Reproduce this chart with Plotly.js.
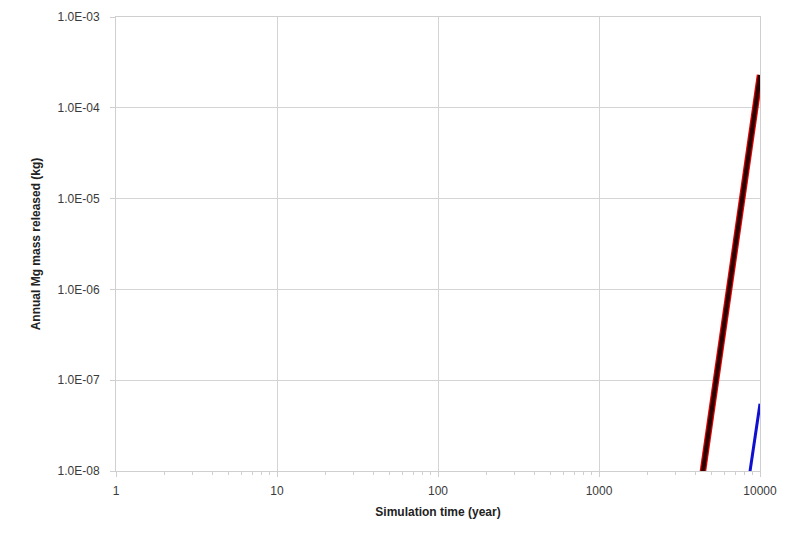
<!DOCTYPE html>
<html>
<head>
<meta charset="utf-8">
<script src="https://cdn.plot.ly/plotly-3.0.1.min.js"></script>
<style>html,body{margin:0;padding:0;background:#fff;}#chart{width:787px;height:535px;}</style>
</head>
<body>
<div id="chart"></div>
<script>
// Simulation time (years)
const timeRed = [4000, 4425, 5000, 6000, 7000, 8000, 9000, 10000];
// Annual Mg mass released (kg) - red/black series
const massRed = [2.9e-9, 1.0e-8, 4.5e-8, 4.2e-7, 2.8e-6, 1.45e-5, 6.2e-5, 2.3e-4];
// blue series
const timeBlue = [8000, 8670, 9000, 10000];
const massBlue = [3.8e-9, 1.0e-8, 1.5e-8, 5.5e-8];

const yTickVals = [1e-8, 1e-7, 1e-6, 1e-5, 1e-4, 1e-3];
const yTickText = ["1.0E-08", "1.0E-07", "1.0E-06", "1.0E-05", "1.0E-04", "1.0E-03"];
const xTickVals = [1, 10, 100, 1000, 10000];
const xTickText = ["1", "10", "100", "1000", "10000"];
const decades = [1, 10, 100, 1000];
const minorDigits = [2, 3, 4, 5, 6, 7, 8, 9];
const xMinorVals = [];
decades.forEach(d => minorDigits.forEach(m => xMinorVals.push(d * m)));

const traces = [
  {x: timeBlue, y: massBlue, mode: 'lines', line: {color: '#1010d0', width: 3}, hoverinfo: 'skip'},
  {x: timeRed, y: massRed, mode: 'lines', line: {color: '#e00000', width: 6.5}, hoverinfo: 'skip'},
  {x: timeRed, y: massRed, mode: 'lines', line: {color: '#2a0000', width: 4}, hoverinfo: 'skip'}
];

const tickFont = {family: 'Liberation Sans, Arial, sans-serif', size: 12, color: '#3a3a3a'};
const titleFont = {family: 'Liberation Sans, Arial, sans-serif', size: 12, color: '#222', weight: 'bold'};

const layout = {
  width: 787, height: 535,
  margin: {l: 116, r: 27, t: 17, b: 64},
  paper_bgcolor: '#fff', plot_bgcolor: '#fff',
  showlegend: false,
  xaxis: {
    type: 'log', range: [0, 4],
    tickvals: xTickVals, ticktext: xTickText,
    showgrid: true, gridcolor: '#d4d4d4', gridwidth: 1,
    showline: true, linecolor: '#cfcfcf', linewidth: 1, mirror: true,
    ticks: 'outside', ticklen: 5, tickcolor: '#cfcfcf',
    tickfont: tickFont, ticklabelstandoff: 4,
    zeroline: false,
    title: {text: 'Simulation time (year)', font: titleFont, standoff: 10}
  },
  xaxis2: {
    type: 'log', range: [0, 4], overlaying: 'x', anchor: 'y', side: 'bottom',
    tickvals: xMinorVals, ticktext: xMinorVals.map(() => ''),
    showticklabels: false, showgrid: false, showline: false, zeroline: false,
    ticks: 'outside', ticklen: 3, tickcolor: '#cfcfcf'
  },
  yaxis: {
    type: 'log', range: [-8, -3],
    tickvals: yTickVals, ticktext: yTickText,
    showgrid: true, gridcolor: '#d4d4d4', gridwidth: 1,
    showline: true, linecolor: '#cfcfcf', linewidth: 1, mirror: true,
    ticks: 'outside', ticklen: 5, tickcolor: '#cfcfcf',
    tickfont: tickFont, ticklabelstandoff: 8,
    zeroline: false,
    title: {text: 'Annual Mg mass released (kg)', font: titleFont, standoff: 14}
  }
};

// invisible trace to activate the minor-tick overlay axis
traces.unshift({x: [1, 10000], y: [1e-8, 1e-8], xaxis: 'x2', yaxis: 'y', mode: 'lines', line: {width: 0}, opacity: 0, hoverinfo: 'skip'});

Plotly.newPlot('chart', traces, layout, {displayModeBar: false, staticPlot: true});
</script>
</body>
</html>
